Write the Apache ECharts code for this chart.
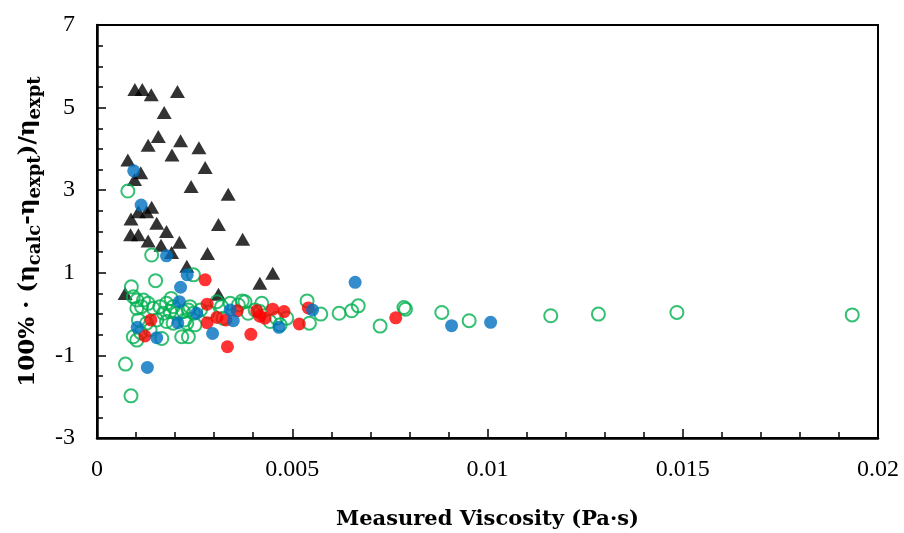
<!DOCTYPE html>
<html>
  <head>
    <meta charset="utf-8" />
    <title>Viscosity deviation</title>
    <script src="https://cdn.jsdelivr.net/npm/echarts@6/dist/echarts.min.js"></script>
    <style type="text/css">
      body { margin: 0; background: #fff; }
    </style>
  </head>
  <body>
    <div id="main" style="width: 904px; height: 533px"></div>
    <script type="text/javascript">
      // points: [measured viscosity (Pa·s), deviation %]
      var triangles = [
        [0.00097, 5.44], [0.00116, 5.44], [0.00139, 5.31], [0.00206, 5.39],
        [0.00172, 4.88], [0.00157, 4.30], [0.00131, 4.09], [0.00214, 4.20],
        [0.00261, 4.03], [0.00192, 3.85], [0.00079, 3.73], [0.00277, 3.55],
        [0.00112, 3.42], [0.00096, 3.26], [0.00241, 3.09], [0.00336, 2.90],
        [0.00140, 2.59], [0.00106, 2.48], [0.00127, 2.48], [0.00087, 2.30],
        [0.00153, 2.20], [0.00311, 2.17], [0.00178, 2.00], [0.00086, 1.92],
        [0.00106, 1.92], [0.00373, 1.81], [0.00131, 1.77], [0.00164, 1.67],
        [0.00211, 1.74], [0.00283, 1.47], [0.00191, 1.49], [0.00230, 1.16],
        [0.00417, 0.75], [0.00450, 0.99], [0.00311, 0.48], [0.00072, 0.50]
      ];

      var greenOpen = [
        [0.00079, 2.98], [0.00140, 1.43], [0.00150, 0.81], [0.00088, 0.66],
        [0.00247, 0.95], [0.00093, 0.42], [0.00102, 0.34], [0.00119, 0.34],
        [0.00131, 0.26], [0.00114, 0.18], [0.00102, 0.14], [0.00144, 0.14],
        [0.00161, 0.18], [0.00178, 0.26], [0.00195, 0.18], [0.00170, 0.02],
        [0.00187, 0.06], [0.00204, 0.02], [0.00221, 0.06], [0.00238, 0.18],
        [0.00247, 0.02], [0.00153, -0.14], [0.00178, -0.18], [0.00195, -0.22],
        [0.00230, -0.22], [0.00093, -0.55], [0.00102, -0.63], [0.00217, -0.55],
        [0.00234, -0.55], [0.00127, -0.22], [0.00136, -0.38], [0.00106, -0.14],
        [0.00379, 0.30], [0.00422, 0.26], [0.00405, 0.10], [0.00362, 0.22],
        [0.00341, 0.26], [0.00319, 0.18], [0.00307, 0.30], [0.00234, 0.10],
        [0.00225, -0.14], [0.00251, -0.26], [0.00323, -0.10], [0.00417, 0.06],
        [0.00460, -0.10], [0.00469, -0.26], [0.00443, -0.18], [0.00372, 0.32],
        [0.00387, 0.02], [0.00486, -0.10], [0.00538, 0.32], [0.00573, 0.00],
        [0.00544, -0.22], [0.00620, 0.02], [0.00652, 0.08], [0.00669, 0.20],
        [0.00725, -0.29], [0.00786, 0.16], [0.00790, 0.12], [0.00883, 0.04],
        [0.00953, -0.16], [0.01162, -0.04], [0.01284, 0.00], [0.01485, 0.04],
        [0.01934, -0.02], [0.00073, -1.21], [0.00087, -1.98], [0.00166, -0.59],
        [0.00265, 0.10], [0.00285, 0.05], [0.00190, 0.38], [0.00112, -0.45]
      ];

      var redFilled = [
        [0.00277, 0.83], [0.00282, 0.24], [0.00138, -0.14], [0.00123, -0.53],
        [0.00282, -0.21], [0.00334, -0.79], [0.00394, -0.49], [0.00359, 0.08],
        [0.00307, -0.08], [0.00330, -0.14], [0.00409, 0.08], [0.00417, -0.05],
        [0.00430, -0.10], [0.00450, 0.12], [0.00479, 0.06], [0.00541, 0.15],
        [0.00518, -0.24], [0.00765, -0.09]
      ];

      var blueFilled = [
        [0.00094, 3.47], [0.00113, 2.64], [0.00178, 1.41], [0.00231, 0.95],
        [0.00214, 0.65], [0.00211, 0.30], [0.00255, 0.02], [0.00207, -0.21],
        [0.00103, -0.32], [0.00153, -0.57], [0.00296, -0.47], [0.00341, 0.10],
        [0.00349, -0.16], [0.00466, -0.32], [0.00129, -1.29], [0.00661, 0.77],
        [0.00552, 0.10], [0.00908, -0.28], [0.01008, -0.20]
      ];

      var myChart = echarts.init(document.getElementById("main"));

      var font = "Liberation Serif";
      var titleFont = "DejaVu Serif";

      option = {
        animation: false,
        backgroundColor: "#fff",
        grid: {
          left: 97,
          right: 26,
          top: 25,
          bottom: 95,
          outerBoundsMode: "none",
          containLabel: false,
          show: true,
          borderColor: "#000",
          borderWidth: 2
        },
        xAxis: {
          type: "value",
          min: 0,
          max: 0.02,
          interval: 0.005,
          name: "Measured Viscosity (Pa·s)",
          nameLocation: "middle",
          nameGap: 71,
          nameTextStyle: { fontFamily: titleFont, fontWeight: "bold", fontSize: 21, color: "#000" },
          axisLine: { onZero: false, lineStyle: { color: "#000", width: 2.5 } },
          axisTick: { inside: true, length: 9, lineStyle: { color: "#000", width: 1.5 } },
          minorTick: { show: true, splitNumber: 5, length: 6, lineStyle: { color: "#000", width: 1.5 } },
          splitLine: { show: false },
          axisLabel: {
            fontFamily: font, fontSize: 24, color: "#000", margin: 20,
            formatter: function (v) { return String(+v.toFixed(3)); }
          }
        },
        yAxis: {
          type: "value",
          min: -3,
          max: 7,
          interval: 2,
          name: "{n|100% · (η}{s|calc}{n|-η}{s|expt}{n|)/η}{s|expt}",
          nameLocation: "middle",
          nameRotate: 90,
          nameGap: 56,
          nameTextStyle: {
            rich: {
              n: { fontFamily: titleFont, fontWeight: "bold", fontSize: 23, color: "#000", lineHeight: 30, verticalAlign: "bottom" },
              s: { fontFamily: titleFont, fontWeight: "bold", fontSize: 18, color: "#000", lineHeight: 30, verticalAlign: "bottom", padding: [0, 0, -5, 0] }
            }
          },
          axisLine: { onZero: false, lineStyle: { color: "#000", width: 2.5 } },
          axisTick: { inside: true, length: 9, lineStyle: { color: "#000", width: 1.5 } },
          minorTick: { show: true, splitNumber: 4, length: 6, lineStyle: { color: "#000", width: 1.5 } },
          splitLine: { show: false },
          axisLabel: { fontFamily: font, fontSize: 24, color: "#000", margin: 22 }
        },
        series: [
          {
            type: "scatter",
            data: triangles,
            symbol: "triangle",
            symbolSize: [15, 13],
            itemStyle: { color: "#000" },
            silent: true
          },
          {
            type: "scatter",
            data: greenOpen,
            symbol: "circle",
            symbolSize: 13,
            itemStyle: { color: "rgba(0,0,0,0)", borderColor: "#00B050", borderWidth: 2 },
            silent: true
          },
          {
            type: "scatter",
            data: redFilled,
            symbol: "circle",
            symbolSize: 13,
            itemStyle: { color: "#FF0000" },
            silent: true
          },
          {
            type: "scatter",
            data: blueFilled,
            symbol: "circle",
            symbolSize: 13,
            itemStyle: { color: "#0070C0" },
            silent: true
          }
        ]
      };

      myChart.setOption(option);
    </script>
  </body>
</html>
